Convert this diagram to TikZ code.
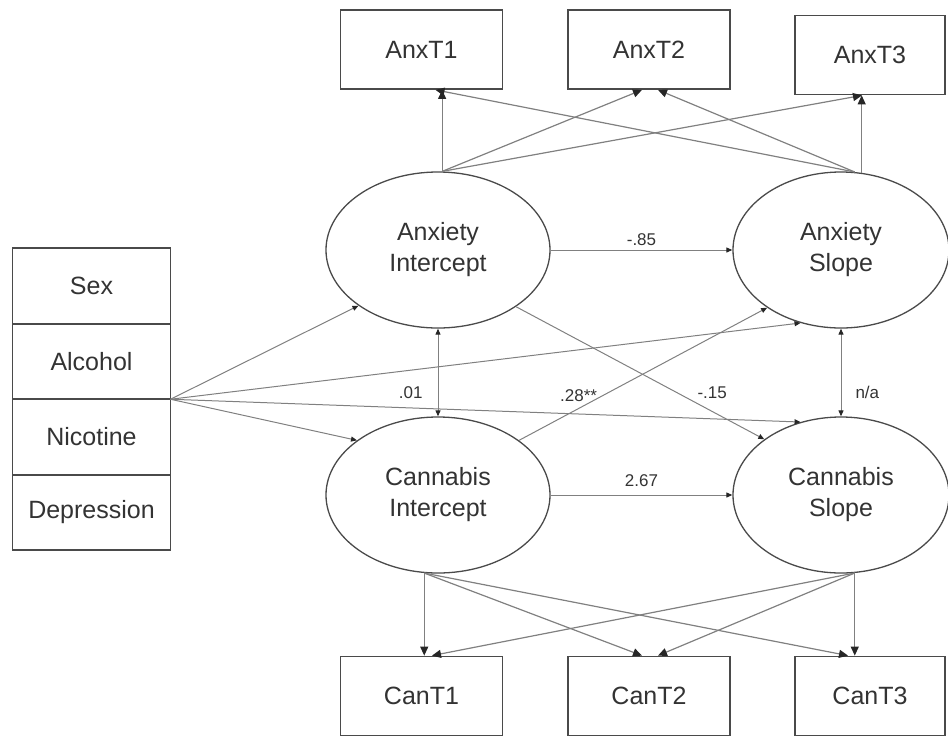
\documentclass[tikz,border=0pt]{standalone}
\usepackage{fontspec}
\setmainfont{Liberation Sans}
\usetikzlibrary{positioning,shapes.geometric,arrows.meta}
\definecolor{linegray}{HTML}{808080}
\definecolor{boxgray}{HTML}{4A4A4A}
\definecolor{textgray}{HTML}{333333}

\begin{document}
\begin{tikzpicture}[x=1pt, y=-1pt,
    obs/.style={draw=boxgray, line width=1.8pt, rectangle, minimum width=162pt, minimum height=79pt, inner sep=0pt, text=textgray, font=\fontsize{25}{31}\selectfont},
    cov/.style={obs, minimum width=158pt, minimum height=75.5pt, outer sep=0pt},
    latent/.style={draw=boxgray, line width=1.3pt, ellipse, minimum width=224pt, minimum height=156pt, inner sep=0pt, align=center, text=textgray, font=\fontsize{25}{31}\selectfont},
    load/.style={draw=linegray, line width=1.2pt, -{Triangle[length=9pt,width=8pt,color=black!85]}},
    reg/.style={draw=linegray, line width=1pt, -{Triangle[length=6pt,width=5pt,color=black!85]}},
    covar/.style={draw=linegray, line width=1pt, {Triangle[length=6pt,width=5pt,color=black!85]}-{Triangle[length=6pt,width=5pt,color=black!85]}},
    coef/.style={text=textgray, font=\fontsize{17}{20}\selectfont, inner sep=2pt}
]
    \useasboundingbox (0,0) rectangle (948,737);

    % observed anxiety scores
    \node[obs] (anxt1) at (421.5,49.5) {AnxT1};
    \node[obs] (anxt2) at (649,49.5) {AnxT2};
    \node[obs, minimum width=150pt] (anxt3) at (870,55) {AnxT3};

    % observed cannabis scores
    \node[obs] (cant1) at (421.5,696) {CanT1};
    \node[obs] (cant2) at (649,696) {CanT2};
    \node[obs, minimum width=150pt] (cant3) at (870,696) {CanT3};

    % growth factors
    \node[latent] (ai) at (438,250) {Anxiety\\Intercept};
    \node[latent, minimum width=216pt] (as) at (841,250) {Anxiety\\Slope};
    \node[latent] (ci) at (438,495) {Cannabis\\Intercept};
    \node[latent, minimum width=216pt] (cs) at (841,495) {Cannabis\\Slope};

    % covariates
    \node[cov] (sex) at (91.5,286) {Sex};
    \node[cov, below=0pt of sex] (alcohol) {Alcohol};
    \node[cov, below=0pt of alcohol] (nicotine) {Nicotine};
    \node[cov, below=0pt of nicotine] (depression) {Depression};

    % anxiety loadings
    \draw[load] (ai.87) -- (ai.87 |- anxt1.south);
    \draw[load] (ai.87) -- ([xshift=-7pt]anxt2.south);
    \draw[load] (ai.87) -- ([xshift=-8pt]anxt3.south);
    \draw[load] (as.80) -- ([xshift=14pt]anxt1.south);
    \draw[load] (as.80) -- ([xshift=9pt]anxt2.south);
    \draw[load] (as.75) -- (as.75 |- anxt3.south);

    % cannabis loadings
    \draw[load] (ci.260) -- (ci.260 |- cant1.north);
    \draw[load] (ci.260) -- ([xshift=-7pt]cant2.north);
    \draw[load] (ci.260) -- ([xshift=-22pt]cant3.north);
    \draw[load] (cs.280) -- ([xshift=10.5pt]cant1.north);
    \draw[load] (cs.280) -- ([xshift=9pt]cant2.north);
    \draw[load] (cs.280) -- (cs.280 |- cant3.north);

    % covariate paths
    \draw[reg] (alcohol.south east) -- (ai.-145);
    \draw[reg] (alcohol.south east) -- (ci.146);
    \draw[reg] (alcohol.south east) -- (as.-119);
    \draw[reg] (alcohol.south east) -- (cs.119);

    % paths between growth factors
    \draw[reg] (ai.east) -- node[coef, above=2pt] (b85) {-.85} (as.west);
    \draw[reg] (ci.east) -- node[coef, above=6pt] (b267) {2.67} (cs.west);
    \draw[reg] (ai.-36) -- node[coef, pos=.79, above=10pt] (b15) {-.15} (cs.144);
    \draw[reg] (ci.34) -- node[coef, pos=.24, above=4pt] (b28) {.28**} (as.-142);
    \draw[covar] (ai.south) -- node[coef, pos=.73, left=13pt] (r01) {.01} (ci.north);
    \draw[covar] (as.south) -- node[coef, pos=.73, right=12pt] (rna) {n/a} (cs.north);
\end{tikzpicture}
\end{document}
